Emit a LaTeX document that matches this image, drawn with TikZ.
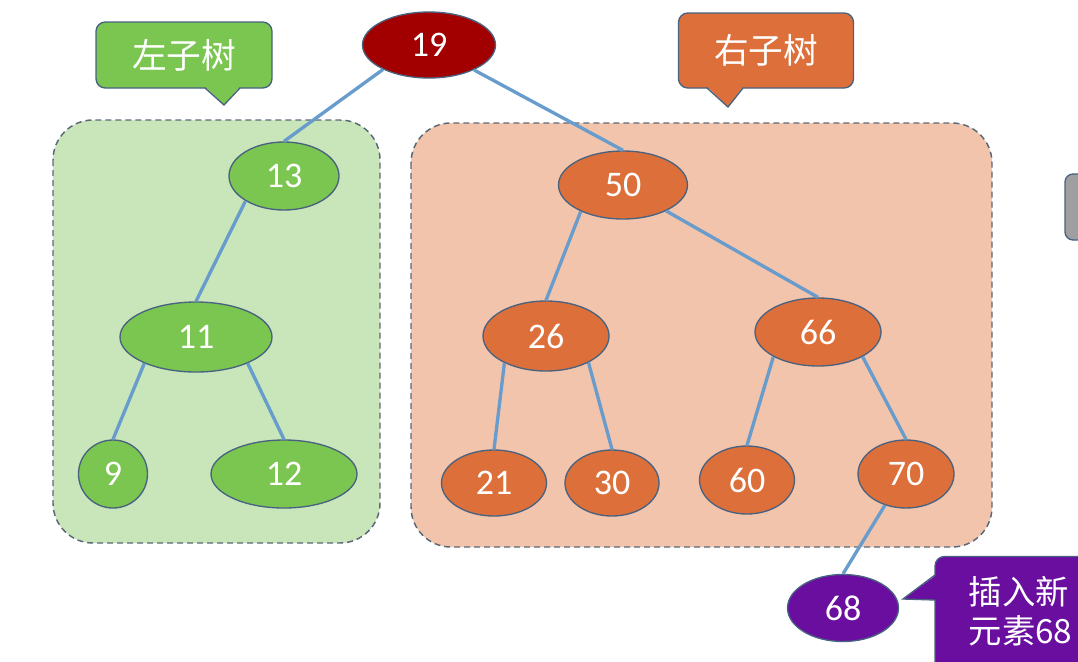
\documentclass[tikz,border=0pt]{standalone}
\usepackage{fontspec}
\setmainfont{Carlito}
\newfontfamily\cjk{Noto Sans CJK SC}
\usetikzlibrary{shapes.geometric}
\definecolor{leafgreen}{RGB}{122,198,80}
\definecolor{leftshade}{RGB}{200,230,186}
\definecolor{treeorange}{RGB}{221,112,58}
\definecolor{rightshade}{RGB}{242,196,172}
\definecolor{rootred}{RGB}{162,0,0}
\definecolor{newpurple}{RGB}{106,14,160}
\definecolor{branchblue}{RGB}{104,156,204}
\definecolor{rimblue}{RGB}{72,98,128}
\definecolor{regiongray}{RGB}{90,104,120}
\newdimen\pxu \pxu=0.75pt
\begin{document}
\begin{tikzpicture}[x=0.75pt,y=-0.75pt,
    key/.style={ellipse,draw=rimblue,line width=1pt,inner sep=0pt,text=white,font=\fontsize{27}{27}\selectfont},
    leftkey/.style={key,fill=leafgreen},
    rightkey/.style={key,fill=treeorange},
    rootkey/.style={key,fill=rootred},
    newkey/.style={key,fill=newpurple},
    branch/.style={draw=branchblue,line width=2.5pt},
    region/.style={draw=regiongray,dash pattern=on 4.5pt off 3pt,line width=1.1pt,rounded corners=30pt},
    tag/.style={rectangle,rounded corners=7pt,draw=rimblue,line width=1pt,text=white,font=\cjk\fontsize{26}{26}\selectfont}]
    \useasboundingbox (0,0) rectangle (1078,661);
    \clip (0,0) rectangle (1078,661);
    \draw[region,fill=leftshade] (53,120) rectangle (380,543);
    \draw[region,fill=rightshade] (411,123) rectangle (992,547);
    \node[tag,fill=leafgreen,minimum width=176\pxu,minimum height=66\pxu] (lefttag) at (184,55) {左子树};
    \fill[leafgreen] (205,86.5) -- (224,105) -- (240,86.5) -- cycle;
    \draw[rimblue,line width=1pt] (205,88) -- (224,105) -- (240,88);
    \node[tag,fill=treeorange,minimum width=175\pxu,minimum height=75\pxu] (righttag) at (766,50.5) {右子树};
    \fill[treeorange] (707,86.5) -- (728,107) -- (743,86.5) -- cycle;
    \draw[rimblue,line width=1pt] (707,88) -- (728,107) -- (743,88);
    \node[tag,fill=newpurple,minimum width=180\pxu,minimum height=123\pxu] (newtag) at (1025,618) {};
    \fill[newpurple] (936.5,575) -- (903,599) -- (936.5,600) -- cycle;
    \draw[rimblue,line width=1pt] (935,575) -- (903,599) -- (935,600);
    \node[anchor=west,align=left,text=white,font=\cjk\fontsize{25}{29}\selectfont] (newtext) at (964,611) {插入新\\元素68};
    \node[draw=rimblue,fill=gray!75,rounded corners=6pt,line width=1pt,minimum width=50\pxu,minimum height=66\pxu] (sidetab) at (1090,207) {};
    \foreach \n/\x/\y/\w/\h/\s in {19/429/45/133/66/rootkey, 13/284/176/110/68/leftkey,
      11/196/337/152/70/leftkey, 9/113/474/69/68/leftkey, 12/284/474/146/68/leftkey,
      50/623/185/129/68/rightkey, 26/546/336/126/70/rightkey, 66/818/332/126/68/rightkey,
      21/494/483/105/66/rightkey, 30/612/483/94/66/rightkey, 60/747/480/95/68/rightkey,
      70/906/474/96/68/rightkey, 68/843/608/111/67/newkey} {
      \node[\s,minimum width=\w\pxu,minimum height=\h\pxu] (n\n) at (\x,\y) {\n};
    }
    \foreach \a/\b/\t in {19/13/208, 19/50/331, 13/11/213, 11/9/207, 11/12/333, 50/26/212,
      50/66/329, 26/21/213, 26/30/328, 66/60/209, 66/70/331, 70/68/236} {
      \draw[branch] (n\a.\t) -- (n\b.north);
    }
\end{tikzpicture}
\end{document}
